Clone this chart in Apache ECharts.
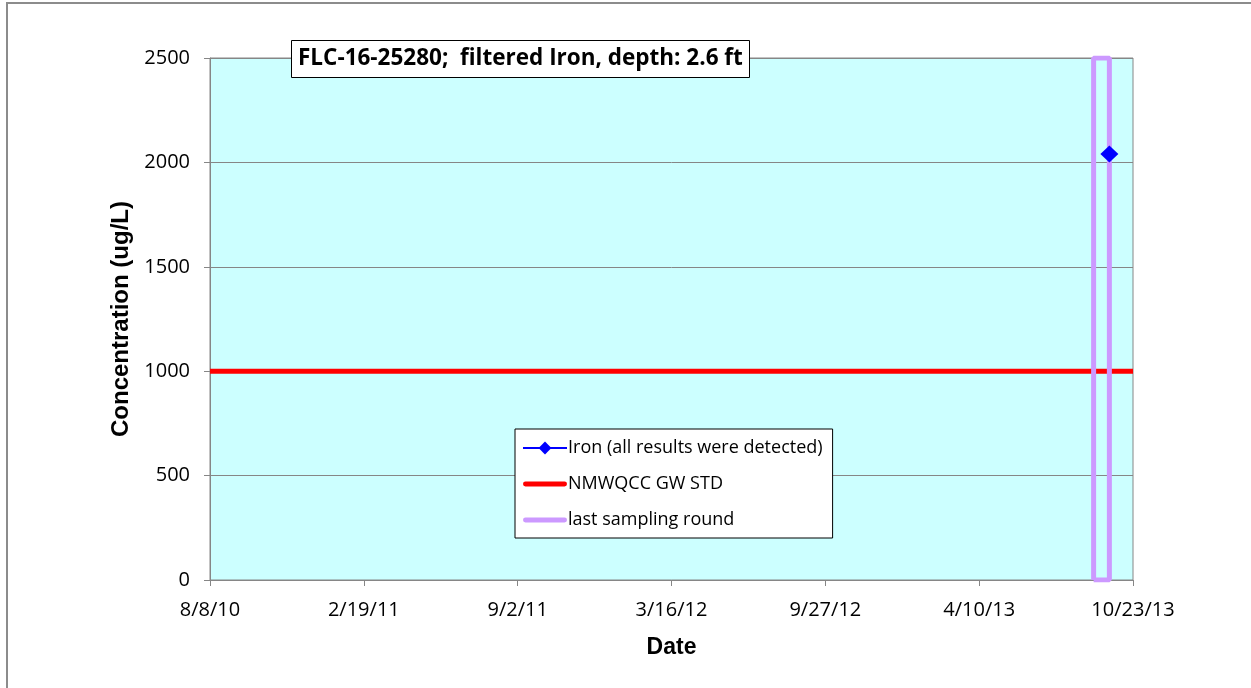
<!DOCTYPE html>
<html>
<head>
<meta charset="utf-8">
<script src="https://cdn.jsdelivr.net/npm/echarts@6/dist/echarts.min.js"></script>
<style>
  html, body { margin: 0; padding: 0; background: #fff; }
  #chart { width: 1251px; height: 688px; }
</style>
</head>
<body>
<div id="chart"></div>
<script>
// x values are days after 8/8/10
var baseDate = Date.UTC(2010, 7, 8);
var xMax = 1172;              // 10/23/13
var xStep = xMax / 6;
var yTicks = [0, 500, 1000, 1500, 2000, 2500];

// Iron (all results were detected)
var ironDays = [1142];
var ironValues = [2040];
// NMWQCC GW STD
var stdDays = [0, 1172];
var stdValues = [1000, 1000];
// last sampling round
var roundDays = [1122, 1122, 1142, 1142, 1122];
var roundValues = [0, 2500, 2500, 0, 0];

function pairs(xs, ys) {
    return xs.map(function (x, i) { return [x, ys[i]]; });
}
function fmtDate(v) {
    var d = new Date(baseDate + Math.floor(v + 1e-6) * 86400000);
    return (d.getUTCMonth() + 1) + "/" + d.getUTCDate() + "/" + String(d.getUTCFullYear()).slice(2);
}

var bodyFont = "'Open Sans', sans-serif";
var nameFont = "'Liberation Sans', Arial, sans-serif";
var gray = "#868686";
var barIcon = "path://M2,0 L42,0 A2.5,2.5 0 0 1 42,5 L2,5 A2.5,2.5 0 0 1 2,0 Z";

var myChart = echarts.init(document.getElementById("chart"));
var option = {
    animation: false,
    backgroundColor: "#fff",
    graphic: [{
        type: "polyline",
        shape: { points: [[7, 688], [7, 3], [1251, 3]] },
        style: { fill: "none", stroke: "#8c8c8c", lineWidth: 2 },
        silent: true
    }],
    title: {
        text: "FLC-16-25280;  filtered Iron, depth: 2.6 ft",
        left: 291,
        top: 40,
        padding: [6, 7, 6, 7],
        backgroundColor: "#fff",
        borderColor: "#000",
        borderWidth: 1,
        textStyle: { fontFamily: bodyFont, fontSize: 22.5, fontWeight: "bold", color: "#000", lineHeight: 26 }
    },
    grid: {
        left: 210, right: 118, top: 58, bottom: 108,
        show: true,
        backgroundColor: "#ccffff",
        borderColor: gray,
        borderWidth: 1
    },
    legend: {
        orient: "vertical",
        left: 515,
        top: 429,
        padding: [7, 10, 6, 7],
        itemGap: 12,
        itemWidth: 44,
        itemHeight: 16,
        backgroundColor: "#fff",
        borderColor: "#000",
        borderWidth: 1,
        textStyle: { fontFamily: bodyFont, fontSize: 18, color: "#000", padding: [0, 0, 0, -4], lineHeight: 24 },
        data: [
            { name: "Iron (all results were detected)" },
            { name: "NMWQCC GW STD", icon: barIcon },
            { name: "last sampling round", icon: barIcon }
        ]
    },
    xAxis: {
        type: "value",
        min: 0,
        max: xMax,
        interval: xStep,
        name: "Date",
        nameLocation: "middle",
        nameGap: 56,
        nameTextStyle: { fontFamily: nameFont, fontSize: 23, fontWeight: "bold", color: "#000" },
        axisLine: { onZero: false, lineStyle: { color: gray, width: 1 } },
        axisTick: { show: true, length: 6, lineStyle: { color: gray } },
        axisLabel: { formatter: fmtDate, margin: 20, fontFamily: bodyFont, fontSize: 20, color: "#000", showMaxLabel: true },
        splitLine: { show: false }
    },
    yAxis: {
        type: "value",
        min: yTicks[0],
        max: yTicks[yTicks.length - 1],
        interval: yTicks[1] - yTicks[0],
        name: "Concentration (ug/L)",
        nameLocation: "middle",
        nameGap: 77,
        nameTextStyle: { fontFamily: nameFont, fontSize: 24, fontWeight: "bold", color: "#000" },
        axisLine: { show: true, lineStyle: { color: gray, width: 1 } },
        axisTick: { show: true, length: 6, lineStyle: { color: gray } },
        axisLabel: { formatter: function (v) { return String(v); }, margin: 20, fontFamily: bodyFont, fontSize: 20, color: "#000" },
        splitLine: { show: true, lineStyle: { color: gray, width: 1 } }
    },
    series: [{
        name: "Iron (all results were detected)",
        type: "line",
        data: pairs(ironDays, ironValues),
        symbol: "diamond",
        symbolSize: [18, 17],
        itemStyle: { color: "#0000ff" },
        lineStyle: { color: "#0000ff", width: 1.5 }
    }, {
        name: "NMWQCC GW STD",
        type: "line",
        data: pairs(stdDays, stdValues),
        showSymbol: false,
        symbol: "none",
        itemStyle: { color: "#ff0000" },
        lineStyle: { color: "#ff0000", width: 5 }
    }, {
        name: "last sampling round",
        type: "line",
        data: pairs(roundDays, roundValues),
        showSymbol: false,
        symbol: "none",
        itemStyle: { color: "#cc99ff" },
        lineStyle: { color: "#cc99ff", width: 5 }
    }]
};
myChart.setOption(option);
</script>
</body>
</html>
